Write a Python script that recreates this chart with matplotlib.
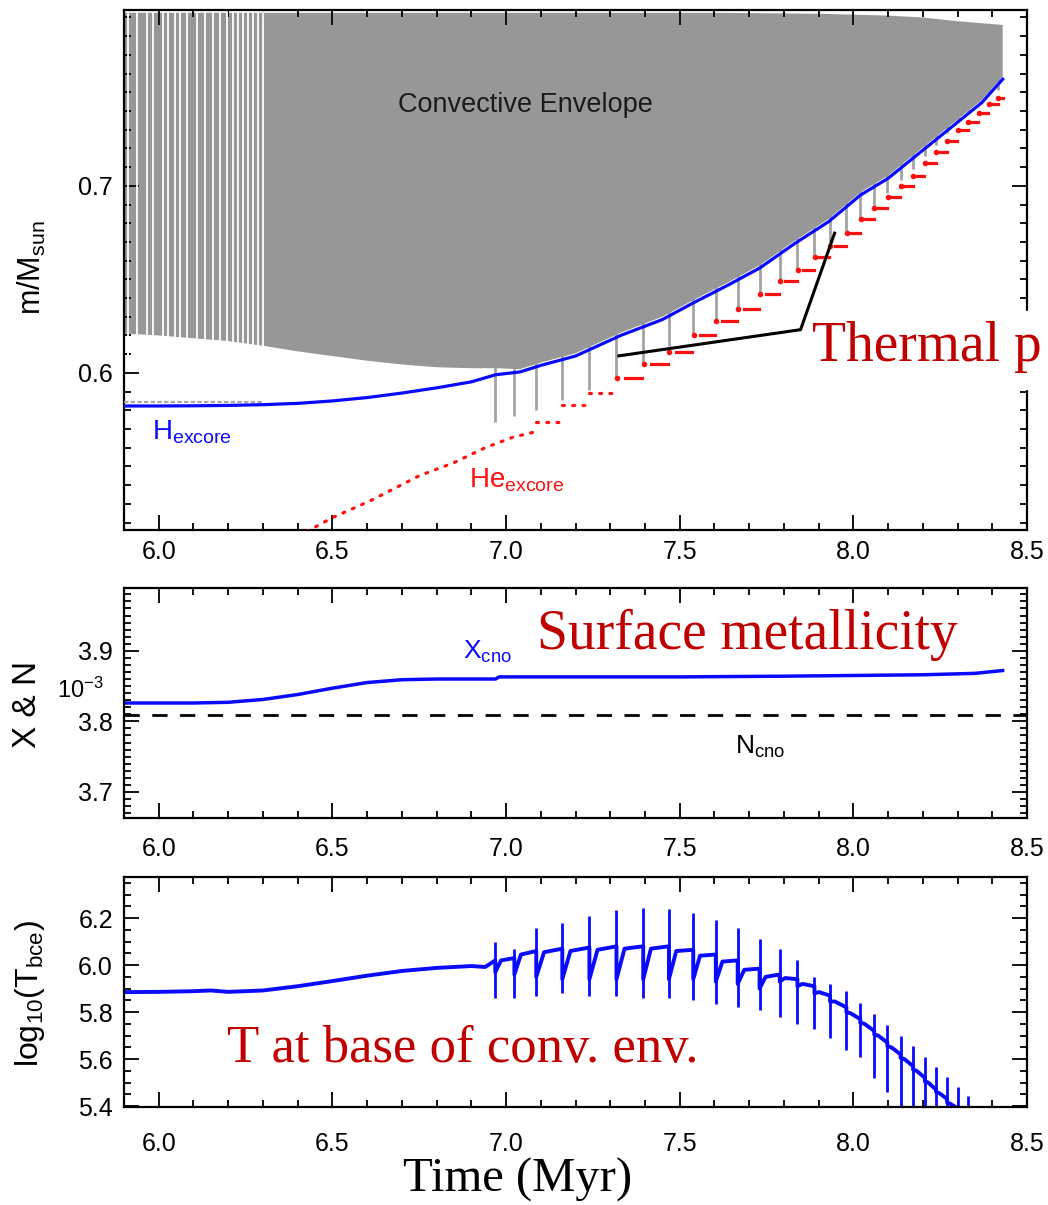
import matplotlib
matplotlib.use("Agg")
import matplotlib.pyplot as plt
import numpy as np
from matplotlib.patches import Rectangle
from matplotlib.ticker import MultipleLocator, FormatStrFormatter

plt.rcParams.update({
    'font.family': 'Liberation Sans',
    'mathtext.fontset': 'custom',
    'mathtext.rm': 'Liberation Sans',
    'mathtext.it': 'Liberation Sans:italic',
    'mathtext.bf': 'Liberation Sans:bold',
})

# ---------------- top panel: m/Msun vs time ----------------
h_core_t = [5.90, 6.00, 6.10, 6.20, 6.30, 6.40, 6.50, 6.60, 6.70, 6.80, 6.90, 6.97, 7.04, 7.10,
            7.20, 7.33, 7.45, 7.54, 7.64, 7.73, 7.83, 7.93, 8.02, 8.10, 8.20, 8.30, 8.37, 8.43]
h_core_m = [0.5823, 0.5823, 0.5824, 0.5826, 0.5830, 0.5837, 0.5850, 0.5868, 0.5892, 0.5920, 0.5952,
            0.5990, 0.6005, 0.6040, 0.6090, 0.6200, 0.6285, 0.6375, 0.6470, 0.6560, 0.6690, 0.6810,
            0.6950, 0.7040, 0.7190, 0.7340, 0.7445, 0.7570]
env_base_m = [0.6210, 0.6200, 0.6185, 0.6170, 0.6145, 0.6115, 0.6090, 0.6065, 0.6045, 0.6030, 0.6025,
              0.6025, 0.6020, 0.6055, 0.6105, 0.6215, 0.6300, 0.6390, 0.6485, 0.6575, 0.6705, 0.6825,
              0.6965, 0.7055, 0.7205, 0.7355, 0.7460, 0.7585]
env_top_t = [5.90, 7.60, 7.90, 8.10, 8.20, 8.30, 8.43]
env_top_m = [0.7925, 0.7925, 0.7920, 0.7910, 0.7900, 0.7880, 0.7860]
stripe_gaps = [5.911, 5.937, 5.966, 5.983, 6.012, 6.026, 6.047, 6.061, 6.081, 6.110, 6.133,
               6.156, 6.176, 6.196, 6.213, 6.228, 6.242, 6.256, 6.271, 6.285, 6.299]
grey_dot_t = [5.90, 6.30]
grey_dot_m = [0.5844, 0.5844]

pulse_t = [6.969, 7.024, 7.087, 7.162, 7.240, 7.318, 7.395, 7.469, 7.539, 7.604, 7.667, 7.730,
           7.788, 7.839, 7.888, 7.933, 7.980, 8.020, 8.060, 8.098, 8.136, 8.172, 8.206, 8.238,
           8.270, 8.300, 8.330, 8.360, 8.390, 8.417]
pulse_bottom = [0.574, 0.577, 0.580, 0.5855, 0.591, 0.598, 0.605, 0.6145, 0.619, 0.627, 0.634,
                0.641, 0.648, 0.655, 0.662, 0.670, 0.676, 0.683, 0.689, 0.696, 0.703, 0.709,
                0.716, 0.722, 0.728, 0.734, 0.740, 0.745, 0.749, 0.751]

he_early_t = [6.40, 6.50, 6.61, 6.75, 6.85, 6.94, 7.02, 7.08]
he_early_m = [0.5125, 0.5226, 0.5317, 0.5450, 0.5520, 0.5600, 0.5656, 0.5683]
# He core level after each pulse, starting with the pulse at 7.087
he_step_m = [0.5740, 0.5830, 0.5890, 0.5970, 0.6050, 0.6110, 0.6200, 0.6280, 0.6340, 0.6420,
             0.6490, 0.6550, 0.6620, 0.6680, 0.6750, 0.6820, 0.6880, 0.6940, 0.7000, 0.7050,
             0.7120, 0.7180, 0.7240, 0.7300, 0.7340, 0.7390, 0.7440, 0.7470]
he_end_t = 8.43

annot_t = [7.325, 7.848, 7.946]
annot_m = [0.6091, 0.6231, 0.6747]

# ---------------- middle panel: X & N (1e-3) ----------------
xcno_t = [5.90, 6.00, 6.10, 6.20, 6.30, 6.40, 6.50, 6.60, 6.70, 6.80, 6.90, 6.97, 6.98,
          7.20, 7.50, 7.80, 8.00, 8.20, 8.35, 8.43]
xcno_v = [3.826, 3.826, 3.826, 3.827, 3.831, 3.838, 3.847, 3.855, 3.859, 3.860, 3.860, 3.860,
          3.863, 3.863, 3.863, 3.864, 3.865, 3.866, 3.868, 3.872]
ncno_t = [5.90, 8.50]
ncno_v = [3.809, 3.809]

# ---------------- bottom panel: log10(T_bce) ----------------
tbce_pre_t = [5.90, 6.00, 6.10, 6.15, 6.20, 6.30, 6.40, 6.50, 6.60, 6.70, 6.80, 6.90, 6.94]
tbce_pre_v = [5.885, 5.886, 5.889, 5.892, 5.886, 5.892, 5.910, 5.932, 5.955, 5.975, 5.988,
              5.996, 5.992]
tbce_plateau = [6.02, 6.03, 6.06, 6.07, 6.075, 6.08, 6.08, 6.08, 6.065, 6.045, 6.02, 5.985,
                5.96, 5.94, 5.91, 5.87, 5.82, 5.77, 5.72, 5.67, 5.62, 5.57, 5.52, 5.47, 5.43,
                5.39, 5.35]
tbce_dip = [5.97, 5.96, 5.95, 5.94, 5.94, 5.94, 5.94, 5.94, 5.94, 5.93, 5.92, 5.90, 5.93, 5.91,
            5.88, 5.845, 5.80, 5.755, 5.705, 5.655, 5.605, 5.555, 5.505, 5.46, 5.415, 5.375,
            5.335]
tbce_knee = [6.02, 6.045, 6.055, 6.06, 6.065, 6.07, 6.07, 6.06, 6.04, 6.015, 5.98, 5.95, 5.945,
             5.92, 5.885, 5.845, 5.795, 5.75, 5.70, 5.65, 5.60, 5.55, 5.50, 5.455, 5.41, 5.37]
tbce_spike_top = [6.10, 6.07, 6.16, 6.18, 6.21, 6.235, 6.245, 6.24, 6.22, 6.19, 6.16, 6.11,
                  6.07, 6.02, 5.95, 5.92, 5.89, 5.84, 5.79, 5.745, 5.70, 5.657, 5.61, 5.567,
                  5.525, 5.48, 5.444]
tbce_spike_bot = [5.86, 5.86, 5.87, 5.88, 5.87, 5.87, 5.86, 5.86, 5.85, 5.835, 5.82, 5.81, 5.78,
                  5.75, 5.73, 5.69, 5.64, 5.61, 5.52, 5.46, 5.38, 5.38, 5.38, 5.38, 5.38, 5.38,
                  5.38]

W, H = 1048, 1205
BLUE = '#0a0aff'
RED = '#ff1010'
DARKRED = '#c00000'
GREY = '#979797'
GREY_LINE = '#a4a4a4'


def fx(px):
    return px / W


def fy(py):
    return 1 - py / H


def style_axes(ax, ymaj, ymin, yfmt, xpad):
    ax.set_xlim(5.9, 8.5)
    ax.xaxis.set_major_locator(MultipleLocator(0.5))
    ax.xaxis.set_minor_locator(MultipleLocator(0.1))
    ax.yaxis.set_major_locator(MultipleLocator(ymaj))
    ax.yaxis.set_minor_locator(MultipleLocator(ymin))
    ax.xaxis.set_major_formatter(FormatStrFormatter('%.1f'))
    ax.yaxis.set_major_formatter(FormatStrFormatter(yfmt))
    ax.tick_params(which='both', direction='in', top=True, right=True, width=1.4,
                   labelsize=18, color='#111111')
    ax.tick_params(which='major', length=11)
    ax.tick_params(which='minor', length=5)
    ax.tick_params(axis='x', pad=xpad)
    ax.tick_params(axis='y', pad=8)
    for s in ax.spines.values():
        s.set_linewidth(1.6)


fig = plt.figure(figsize=(W / 100, H / 100), dpi=100)
ax1 = fig.add_axes([fx(124), fy(530), fx(1027) - fx(124), fy(10) - fy(530)])
ax2 = fig.add_axes([fx(124), fy(818), fx(1027) - fx(124), fy(588) - fy(818)])
ax3 = fig.add_axes([fx(124), fy(1107), fx(1027) - fx(124), fy(877) - fy(1107)])

# ---- top panel ----
ax1.fill(list(h_core_t) + env_top_t[::-1], env_base_m + env_top_m[::-1], color=GREY, lw=0, zorder=1)
ax1.vlines(stripe_gaps, 0.605, 0.80, color='white', lw=1.3, zorder=2)
ax1.vlines(pulse_t, pulse_bottom, 0.78, color=GREY_LINE, lw=2.0, zorder=0.5)
ax1.plot(grey_dot_t, grey_dot_m, color='#a8a8a8', lw=1.6, ls=(0, (2, 1)), zorder=3)
ax1.plot(h_core_t, h_core_m, color=BLUE, lw=2.3, zorder=5)

ax1.plot(he_early_t, he_early_m, color=RED, lw=2.3, ls=(0, (0.6, 2.6)),
         dash_capstyle='round', zorder=4)
for i, lev in enumerate(he_step_m):
    t0 = pulse_t[i + 2]
    t1 = pulse_t[i + 3] if i + 3 < len(pulse_t) else he_end_t
    dt = t1 - t0
    if t0 < 7.3:
        ax1.plot([t0, t1], [lev, lev], color=RED, lw=2.3, ls=(0, (0.6, 2.6)),
                 dash_capstyle='round', zorder=4)
    else:
        ax1.plot([t0 + 0.02 * dt], [lev], 'o', color=RED, ms=3, zorder=4)
        ax1.plot([t0 + 0.3 * dt, t1 - 0.04 * dt], [lev, lev], color=RED, lw=2.3, zorder=4)

ax1.plot(annot_t, annot_m, color='black', lw=2.2, zorder=6)
ax1.set_ylim(0.516, 0.794)
style_axes(ax1, 0.1, 0.01, '%.1f', 7)

# ---- middle panel ----
ax2.plot(xcno_t, xcno_v, color=BLUE, lw=2.5)
ax2.plot(ncno_t, ncno_v, color='black', lw=2.0, ls=(0, (5.5, 4.5)))
ax2.set_ylim(3.663, 3.989)
style_axes(ax2, 0.1, 0.01, '%.1f', 14)

# ---- bottom panel ----
n_p = len(tbce_spike_top)
tt = list(tbce_pre_t)
tv = list(tbce_pre_v)
for i in range(n_p):
    t0 = pulse_t[i]
    tt += [t0, t0]
    tv += [tbce_plateau[i], tbce_dip[i]]
    if i < n_p - 1:
        t1 = pulse_t[i + 1]
        tt.append(t0 + 0.3 * (t1 - t0))
        tv.append(tbce_knee[i])
ax3.plot(tt, tv, color=BLUE, lw=2.8)
ax3.vlines(pulse_t[:n_p], tbce_spike_bot, tbce_spike_top, color=BLUE, lw=2.0)
ax3.set_ylim(5.396, 6.375)
style_axes(ax3, 0.2, 0.05, '%.1f', 18)

# ---- in-panel labels ----
fig.text(fx(525), fy(105), 'Convective Envelope', fontsize=19.5, color='#1a1a1a',
         ha='center', va='center')
fig.text(fx(152), fy(432), r'H$_{\rm excore}$', fontsize=20, color=BLUE, ha='left', va='center')
fig.text(fx(469), fy(480), r'He$_{\rm excore}$', fontsize=20, color=RED, ha='left', va='center')
fig.text(fx(463), fy(652), r'X$_{\rm cno}$', fontsize=19, color=BLUE, ha='left', va='center')
fig.text(fx(735), fy(747), r'N$_{\rm cno}$', fontsize=19, color='black', ha='left', va='center')
fig.text(fx(80), fy(690), r'10$^{-3}$', fontsize=17, ha='center', va='center')

# ---- axis labels ----
fig.text(fx(32), fy(268), r'm/M$_{\rm sun}$', fontsize=22, rotation=90, ha='center', va='center')
fig.text(fx(28), fy(704), 'X & N', fontsize=24, rotation=90, ha='center', va='center')
fig.text(fx(30), fy(994), r'log$_{10}$(T$_{\rm bce}$)', fontsize=23, rotation=90,
         ha='center', va='center')

# ---- red annotations ----
serif = 'Liberation Serif'
fig.add_artist(Rectangle((fx(1006), fy(389)), fx(1048) - fx(1006), fy(311) - fy(389),
                         transform=fig.transFigure, color='white', zorder=5))
fig.text(fx(812), fy(361), 'Thermal p', fontsize=40, family=serif, color=DARKRED,
         ha='left', va='baseline', zorder=6)
fig.text(fx(537), fy(649), 'Surface metallicity', fontsize=40, family=serif, color=DARKRED,
         ha='left', va='baseline')
fig.text(fx(227), fy(1062), 'T at base of conv. env.', fontsize=38, family=serif,
         color=DARKRED, ha='left', va='baseline')
fig.text(fx(518), fy(1192), 'Time (Myr)', fontsize=35, family=serif, color='black',
         ha='center', va='baseline')

fig.savefig('out.png', dpi=100)
